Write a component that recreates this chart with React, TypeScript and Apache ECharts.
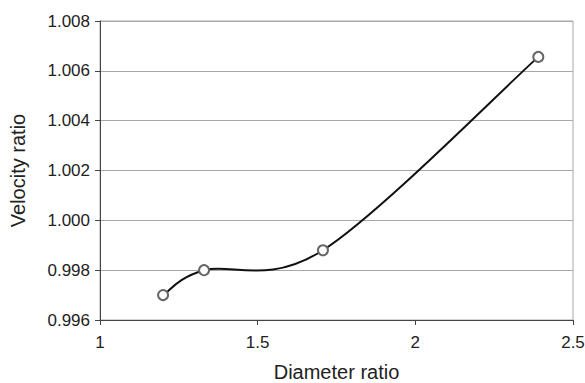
import React, { useEffect, useRef } from "react";
import * as echarts from "echarts";

// Measured points: diameter ratio vs velocity ratio
const diameterRatio = [1.2, 1.33, 1.707, 2.39];
const velocityRatio = [0.997, 0.998, 0.9988, 1.00656];

const xTicks = { min: 1, max: 2.5, interval: 0.5 };
const yTicks = { min: 0.996, max: 1.008, interval: 0.002 };

const FONT = "'Liberation Sans', Arial, Helvetica, sans-serif";

export default function App() {
  const ref = useRef<HTMLDivElement>(null);

  useEffect(() => {
    if (!ref.current) return;
    const chart = echarts.init(ref.current, undefined, { renderer: "svg" });
    const points = diameterRatio.map((x, i) => [x, velocityRatio[i]]);
    const n = points.length;

    // Smoothed curve: cubic Bezier segments with Catmull-Rom style tangents in pixel space
    const renderSegment = (params: any, api: any) => {
      const i = params.dataIndex;
      if (i >= n - 1) return { type: "group", children: [] };
      const P = points.map((p) => api.coord(p));
      const p0 = P[Math.max(i - 1, 0)];
      const p1 = P[i];
      const p2 = P[i + 1];
      const p3 = P[Math.min(i + 2, n - 1)];
      return {
        type: "bezierCurve",
        shape: {
          x1: p1[0],
          y1: p1[1],
          x2: p2[0],
          y2: p2[1],
          cpx1: p1[0] + (p2[0] - p0[0]) / 6,
          cpy1: p1[1] + (p2[1] - p0[1]) / 6,
          cpx2: p2[0] - (p3[0] - p1[0]) / 6,
          cpy2: p2[1] - (p3[1] - p1[1]) / 6,
        },
        style: { stroke: "#111", lineWidth: 2, fill: null },
      };
    };

    chart.setOption({
      animation: false,
      backgroundColor: "#fff",
      grid: {
        left: 100,
        right: 12,
        top: 21,
        bottom: 63,
        outerBoundsMode: "none",
        show: true,
        borderColor: "#a8a8a8",
        borderWidth: 1,
      },
      xAxis: {
        type: "value",
        min: xTicks.min,
        max: xTicks.max,
        interval: xTicks.interval,
        name: "Diameter ratio",
        nameLocation: "middle",
        nameGap: 41,
        nameTextStyle: { fontFamily: FONT, fontSize: 20, color: "#222", lineHeight: 22 },
        axisLine: { show: true, lineStyle: { color: "#444", width: 1 } },
        axisTick: { show: true, length: 5, lineStyle: { color: "#444" } },
        axisLabel: { fontFamily: FONT, fontSize: 17, color: "#222", margin: 14 },
        splitLine: { show: false },
      },
      yAxis: {
        type: "value",
        min: yTicks.min,
        max: yTicks.max,
        interval: yTicks.interval,
        name: "Velocity ratio",
        nameLocation: "middle",
        nameGap: 72,
        nameTextStyle: { fontFamily: FONT, fontSize: 20, color: "#222" },
        axisLine: { show: true, lineStyle: { color: "#444", width: 1 } },
        axisTick: { show: true, length: 5, lineStyle: { color: "#444" } },
        axisLabel: {
          fontFamily: FONT,
          fontSize: 17,
          color: "#222",
          margin: 10,
          formatter: (v: number) => v.toFixed(3),
        },
        splitLine: { show: true, lineStyle: { color: "#a8a8a8", width: 1 } },
      },
      series: [
        {
          type: "custom",
          renderItem: renderSegment,
          data: points,
          encode: { x: 0, y: 1 },
          z: 2,
        },
        {
          type: "scatter",
          data: points,
          symbol: "emptyCircle",
          symbolSize: 10,
          itemStyle: { color: "#666", borderColor: "#666", borderWidth: 1, opacity: 1 },
          z: 3,
        },
      ],
    });
    return () => chart.dispose();
  }, []);

  return (
    <div
      ref={ref}
      style={{ position: "fixed", left: 0, top: 0, width: 585, height: 383 }}
    />
  );
}
